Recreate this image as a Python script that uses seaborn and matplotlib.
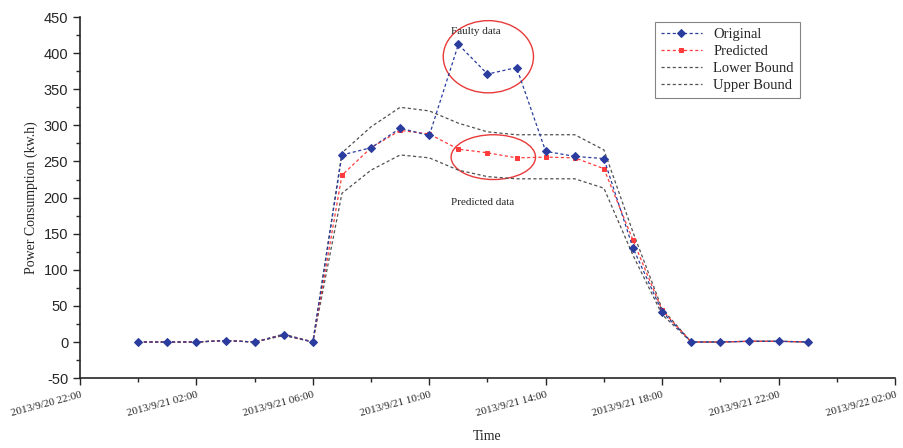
import pandas as pd
import numpy as np
import matplotlib.pyplot as plt
import matplotlib.dates as mdates
from matplotlib.patches import Ellipse
import seaborn as sns

# hourly readings, 2013/9/21 00:00 .. 23:00
hours = pd.date_range('2013-09-21 00:00', periods=24, freq='h')
original = [0, 0, 0, 2, 0, 10, 0, 259, 269, 296, 286, 412, 371, 380,
            264, 257, 254, 130, 42, 0, 0, 1, 1, 0]
predicted = [0, 0, 0, 2, 0, 10, 0, 231, 269, 293, 288, 267, 262, 255,
             256, 255, 240, 141, 44, 0, 0, 1, 1, 0]
lower = [0, 0, 0, 2, 0, 9, 0, 206, 238, 259, 255, 238, 229, 226,
         226, 226, 213, 120, 38, 0, 0, 1, 1, 0]
upper = [0, 0, 0, 2, 0, 11, 0, 262, 298, 325, 320, 303, 291, 287,
         287, 287, 266, 152, 46, 0, 0, 1, 1, 0]

df = pd.DataFrame({'Time': hours, 'Original': original, 'Predicted': predicted,
                   'Lower Bound': lower, 'Upper Bound': upper})

sns.set_style('ticks')
plt.rcParams['font.family'] = ['Liberation Serif', 'DejaVu Serif']
plt.rcParams['axes.unicode_minus'] = False

fig, ax = plt.subplots(figsize=(9.04, 4.48), dpi=100)
fig.subplots_adjust(left=0.0885, right=0.99, top=0.962, bottom=0.156)

dash = (0, (2.5, 2))
sns.lineplot(data=df, x='Time', y='Lower Bound', ax=ax, color='#505050', lw=0.9,
             linestyle=dash, label='Lower Bound')
sns.lineplot(data=df, x='Time', y='Upper Bound', ax=ax, color='#505050', lw=0.9,
             linestyle=dash, label='Upper Bound')
sns.lineplot(data=df, x='Time', y='Predicted', ax=ax, color='#ff3b3b', lw=0.9,
             linestyle=dash, marker='s', markersize=3.5, markeredgecolor='#ff3b3b',
             label='Predicted')
sns.lineplot(data=df, x='Time', y='Original', ax=ax, color='#2a3c9e', lw=0.9,
             linestyle=dash, marker='D', markersize=4, markeredgecolor='#2a3c9e',
             label='Original')

# circled regions
t0 = mdates.date2num(pd.Timestamp('2013-09-21 12:00'))
ax.add_patch(Ellipse((t0 + 0.03 / 24, 395), width=3.1 / 24, height=100, fill=False,
                     edgecolor='#e83a3a', lw=1))
ax.add_patch(Ellipse((t0 + 0.2 / 24, 256), width=2.9 / 24, height=62, fill=False,
                     edgecolor='#e83a3a', lw=1))
ax.text(pd.Timestamp('2013-09-21 11:35'), 430, 'Faulty data', fontsize=8,
        ha='center', va='center')
ax.text(pd.Timestamp('2013-09-21 11:50'), 193, 'Predicted data', fontsize=8,
        ha='center', va='center')

ax.set_xlim(pd.Timestamp('2013-09-20 22:00'), pd.Timestamp('2013-09-22 02:00'))
ax.set_ylim(-50, 450)
ax.set_yticks(np.arange(-50, 451, 50))
ax.yaxis.set_minor_locator(plt.MultipleLocator(25))
ax.xaxis.set_major_locator(mdates.HourLocator(byhour=[2, 6, 10, 14, 18, 22]))
ax.xaxis.set_minor_locator(mdates.HourLocator(byhour=[0, 4, 8, 12, 16, 20]))
ax.xaxis.set_major_formatter(mdates.DateFormatter('%Y/%-m/%d %H:%M'))
for lab in ax.get_xticklabels():
    lab.set_rotation(15)
    lab.set_ha('right')
    lab.set_rotation_mode('anchor')
    lab.set_fontsize(8)
for lab in ax.get_yticklabels():
    lab.set_fontfamily('Liberation Sans')
    lab.set_fontsize(10.5)
ax.tick_params(which='major', length=5, width=1, direction='out')
ax.tick_params(which='minor', length=3, width=1, direction='out')

ax.set_xlabel('Time', fontsize=10, labelpad=9)
ax.set_ylabel('Power Consumption (kw.h)', fontsize=10)
sns.despine(ax=ax)
for s in ['left', 'bottom']:
    ax.spines[s].set_linewidth(1.2)

# legend order as in the reference
handles, labels = ax.get_legend_handles_labels()
order = [labels.index(n) for n in ['Original', 'Predicted', 'Lower Bound', 'Upper Bound']]
leg = ax.legend([handles[i] for i in order], [labels[i] for i in order],
                loc='upper right', bbox_to_anchor=(0.883, 0.986), borderaxespad=0,
                fontsize=10.5, frameon=True, fancybox=False, edgecolor='#666666',
                handlelength=2.8, borderpad=0.4, labelspacing=0.25)
leg.get_frame().set_linewidth(0.8)

fig.savefig('out.png', dpi=100)
